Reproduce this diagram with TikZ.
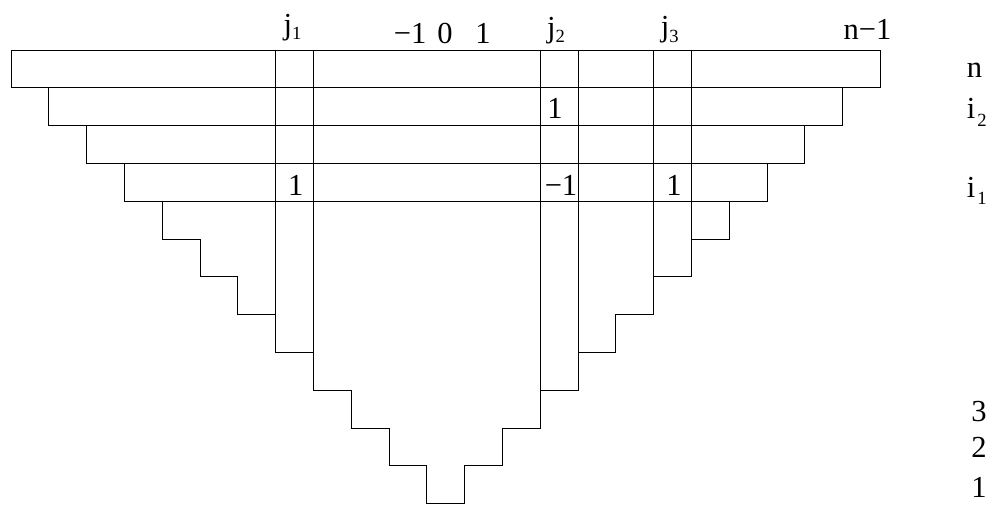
\documentclass[tikz,border=0pt]{standalone}
\usepackage{fontspec}
\setmainfont{Liberation Serif}
% lowered, smaller index after a letter
\newcommand\lowsub[2]{\raisebox{-#1}{\fontsize{14}{14}\selectfont #2}}
\begin{document}
\begin{tikzpicture}[x=1cm,y=1cm,
  rule/.style={line width=0.6pt, line join=miter},
  lbl/.style={inner sep=0pt, anchor=base, font=\fontsize{23}{27}\selectfont},
  rlbl/.style={lbl, anchor=base west}]
\useasboundingbox (-0.291,1.323) rectangle (26.137,-12.063);

% staircase outline: row r runs from x=r to x=23-r
\draw[rule] (0,0) -- (23,0)
  \foreach \r in {0,...,10} { -- ({23-\r},{-\r-1}) -- ({22-\r},{-\r-1}) }
  -- (12,-12) -- (11,-12)
  \foreach \r in {10,...,0} { -- ({\r+1},{-\r-1}) -- (\r,{-\r-1}) }
  -- cycle;

% boundaries between the upper rows
\foreach \r in {1,...,4}
  \draw[rule] ({\r-1},{-\r}) -- ({24-\r},{-\r});

% columns j1, j2, j3
\draw[rule] (7,0) -- (7,-8);
\draw[rule] (8,0) -- (8,-9);
\draw[rule] (14,0) -- (14,-10);
\draw[rule] (15,0) -- (15,-9);
\draw[rule] (17,0) -- (17,-7);
\draw[rule] (18,0) -- (18,-6);

% column labels
\node[lbl] (cj1) at (7.45,0.42) {j\lowsub{4pt}{1}};
\node[lbl] (cm1) at (10.56,0.185) {−1};
\node[lbl] (c0) at (11.48,0.185) {0};
\node[lbl] (cp1) at (12.49,0.185) {1};
\node[lbl] (cj2) at (14.42,0.344) {j\lowsub{4.5pt}{2}};
\node[lbl] (cj3) at (17.43,0.37) {j\lowsub{4.5pt}{3}};
\node[lbl] (cn) at (22.66,0.265) {n−1};

% row labels
\node[rlbl] (rn) at (25.28,-0.714) {n};
\node[rlbl] (ri2) at (25.28,-1.80) {i\kern1.5pt\lowsub{6pt}{2}};
\node[rlbl] (ri1) at (25.28,-3.889) {i\kern1.5pt\lowsub{6pt}{1}};
\node[lbl] (r3) at (25.61,-9.84) {3};
\node[lbl] (r2) at (25.61,-10.79) {2};
\node[lbl] (r1) at (25.61,-11.83) {1};

% entries
\node[lbl] (e1) at (14.39,-1.80) {1};
\node[lbl] (e2) at (7.53,-3.836) {1};
\node[lbl] (e3) at (14.55,-3.836) {−1};
\node[lbl] (e4) at (17.54,-3.836) {1};
\end{tikzpicture}
\end{document}
